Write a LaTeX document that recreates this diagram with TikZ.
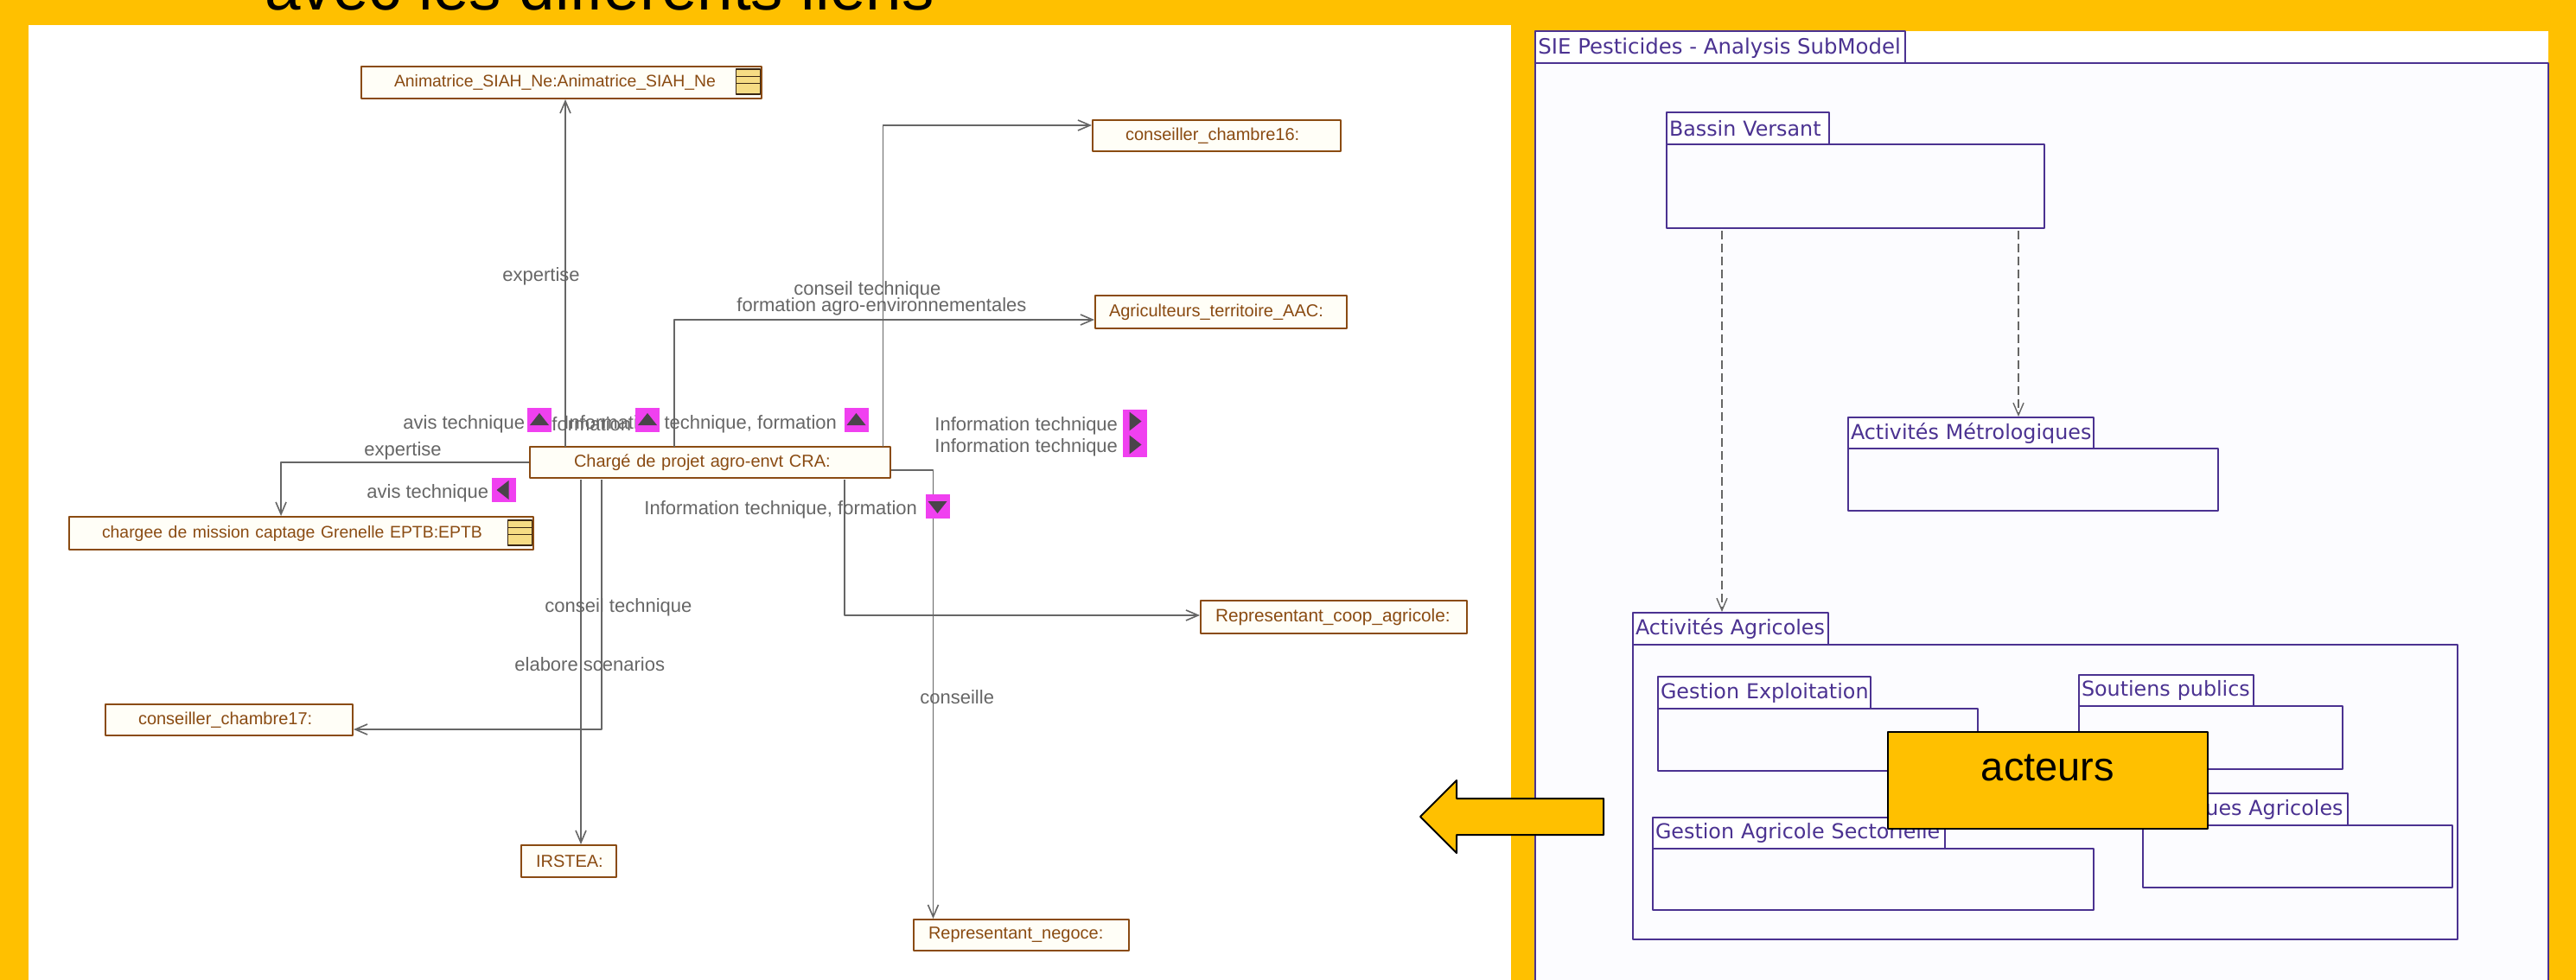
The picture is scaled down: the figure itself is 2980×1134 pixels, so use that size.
\documentclass[tikz,border=0pt]{standalone}
\usepackage{fontspec}
\setmainfont{Liberation Sans}
\newfontfamily\pkgfont{DejaVu Sans}
\usetikzlibrary{arrows.meta}
\definecolor{fond}{HTML}{FFC000}
\definecolor{panneau}{HTML}{FCFCFF}
\definecolor{brun}{HTML}{8A4B12}
\definecolor{creme}{HTML}{FFFEF7}
\definecolor{violet}{HTML}{4B3291}
\definecolor{trait}{HTML}{666666}
\definecolor{rose}{HTML}{F040F0}
\definecolor{sombre}{HTML}{4A444A}
\definecolor{dore}{HTML}{F6DC84}
\tikzset{
	actor/.style={draw=brun,fill=creme,line width=1pt,inner sep=0pt,text=brun,align=left,font=\fontsize{10}{12}\selectfont},
	pkg/.style={draw=violet,fill=panneau,line width=1pt,inner sep=0pt,text=violet,align=left,font=\pkgfont\fontsize{11.9}{14}\selectfont},
	link/.style={draw=trait,line width=.8pt},
	dep/.style={draw=trait,line width=.7pt,dash pattern=on 5pt off 2.5pt},
	lbl/.style={text=trait,inner sep=0pt,anchor=west,font=\fontsize{11}{12}\selectfont},
	markbox/.style={fill=rose,inner sep=0pt,minimum width=14pt,minimum height=14pt},
	iconbox/.style={draw=black!70!brown,fill=dore,line width=.7pt,inner sep=0pt,minimum width=14pt,minimum height=14.5pt},
	tag/.style={draw=black,fill=fond,line width=1pt}
}
\begin{document}
\begin{tikzpicture}[x=.5pt,y=-.5pt,line join=round,>={Straight Barb[length=7pt,width=6pt]}]
	\useasboundingbox (0,0) rectangle (2980,1134);
	\fill[fond] (0,0) rectangle (2980,1134);
	\node[anchor=base west,inner sep=0pt,font=\fontsize{37.3}{42}\selectfont] (titre) at (306,12) {avec les différents liens};
	% panels
	\fill[white] (33,29) rectangle (1748,1134);
	\fill[white] (1776,36) rectangle (2948,73);
	\draw[violet,line width=1pt,fill=panneau] (1776,73) rectangle (2948,1140);
	\draw[violet,line width=1pt,fill=white] (1776,36) rectangle (2204,73);
	\node[text=violet,inner sep=0pt,anchor=west,font=\pkgfont\fontsize{12.2}{14}\selectfont] (soustitre) at (1779,56) {SIE Pesticides - Analysis SubModel};
	% packages
	\foreach \nm/\xa/\ya/\xt/\yb/\xb/\yc/\txt in {
		bassin/1928/130/2116/167/2365/264/Bassin Versant,
		metro/2138/483/2422/519/2566/591/Activités Métrologiques,
		agri/1889/709/2115/746/2843/1087/Activités Agricoles,
		exploit/1918/783/2164/820/2288/892/Gestion Exploitation,
		soutien/2405/781/2607/817/2710/890/Soutiens publics,
		secteur/1912/946/2250/982/2422/1053/Gestion Agricole Sectorielle,
		pratique/2479/918/2716/955/2837/1027/Pratiques Agricoles}{
		\pgfmathsetmacro\bw{(\xb-\xa)*.5}
		\pgfmathsetmacro\bh{(\yc-\yb)*.5}
		\pgfmathsetmacro\tw{(\xt-\xa)*.5}
		\pgfmathsetmacro\th{(\yb-\ya)*.5}
		\node[pkg,text width=\tw pt,minimum height=\th pt,fill=white] (\nm tab) at ({(\xa+\xt)/2},{(\ya+\yb)/2}) {\hspace*{1.5pt}\mbox{\txt}};
		\node[pkg,minimum width=\bw pt,minimum height=\bh pt] (\nm) at ({(\xa+\xb)/2},{(\yb+\yc)/2}) {};
	}
	\coordinate (d1) at (1992,267);
	\coordinate (d2) at (2335,267);
	\draw[dep,->] (d1) -- (d1 |- agritab.north);
	\draw[dep,->] (d2) -- (d2 |- metrotab.north);
	% actors
	\foreach \nm/\xa/\ya/\xb/\yb/\xt/\txt in {
		ani/418/77/881/114/456/{\fontsize{9.7}{12}\selectfont Animatrice\_SIAH\_Ne:Animatrice\_SIAH\_Ne},
		cons16/1264/139/1551/175/1302/conseiller\_chambre16:,
		agricult/1267/342/1558/380/1283/Agriculteurs\_territoire\_AAC:,
		cpa/613/517/1030/553/664/Chargé de projet agro-envt CRA:,
		eptb/80/598/617/636/118/{\fontsize{9.7}{12}\selectfont chargee de mission captage Grenelle EPTB:EPTB},
		coop/1389/695/1697/733/1406/{\fontsize{10.4}{12}\selectfont Representant\_coop\_agricole:},
		cons17/122/815/408/851/160/conseiller\_chambre17:,
		irstea/603/978/713/1015/620/IRSTEA:,
		neg/1057/1064/1306/1100/1074/Representant\_negoce:}{
		\pgfmathsetmacro\bw{(\xb-\xa)*.5}
		\pgfmathsetmacro\bh{(\yb-\ya)*.5}
		\pgfmathsetmacro\pad{(\xt-\xa)*.5}
		\node[actor,text width=\bw pt,minimum height=\bh pt] (\nm) at ({(\xa+\xb)/2},{(\ya+\yb)/2}) {\hspace*{\pad pt}\txt};
	}
	\foreach \nm/\x/\y in {iconA/865.5/94.5,iconB/601.5/616.5} {
		\node[iconbox] (\nm) at (\x,\y) {};
		\draw[black!70!brown,line width=.6pt] ([yshift=3pt]\nm.west) -- ([yshift=3pt]\nm.east);
		\draw[black!70!brown,line width=.6pt] ([yshift=-1pt]\nm.west) -- ([yshift=-1pt]\nm.east);
	}
	% connectors
	\foreach \p/\x in {u1/654,u2/780,u3/1021.5} \coordinate (\p) at (\x,517);
	\foreach \p/\x in {v1/672,v2/696,v3/977} \coordinate (\p) at (\x,555);
	\draw[link,->] (u1) -- (u1 |- ani.south);
	\draw[link,->] (u2) |- ([yshift=-4.5pt]agricult.west);
	\draw[link,->] (u3) |- ([yshift=6pt]cons16.west);
	\draw[link,->] (cpa.west) -| ([xshift=-11.7pt]eptb.north);
	\draw[link,->] (v1) -- (v1 |- irstea.north);
	\draw[link,->] (v2) |- ([yshift=-5.5pt]cons17.east);
	\draw[link,->] (v3) |- ([yshift=1pt]coop.west);
	\draw[link,->] ([yshift=-4.5pt]cpa.east) -| ([xshift=-51pt]neg.north);
	% labels
	\foreach \nm/\x/\y/\txt in {
		expA/581/320/expertise,
		conseilA/918/336/conseil technique,
		formA/852/355/formation agro-environnementales,
		avisA/466/491/avis technique,
		formB/638/491/formation,
		infoA/652/491/{Information technique, formation},
		infoB/1081/493/Information technique,
		infoC/1081/518/Information technique,
		expB/421/522/expertise,
		avisB/424/571/avis technique,
		infoD/745/590/{Information technique, formation},
		conseilB/630/703/conseil technique,
		elabore/595/769/elabore scenarios,
		conseille/1064/807/conseille}
		\node[lbl] (\nm) at (\x,\y) {\txt};
	% markers
	\foreach \nm/\x/\y/\g in {m1/624/486/90,m2/749/486/90,m3/990.5/486/90,m4/1312.5/487.5/0,m5/1312.5/514.5/0,m6/582.5/567/180,m7/1084.5/586/-90} {
		\node[markbox] (\nm) at (\x,\y) {};
		\fill[sombre,shift={(\nm.center)},rotate=\g] (-6,-11) -- (8,0) -- (-6,11) -- cycle;
	}
	% overlay
	\draw[tag] (1855,924) -- (1685,924) -- (1685,903) -- (1643,945) -- (1685,987) -- (1685,966) -- (1855,966) -- cycle;
	\draw[tag] (2184,847) rectangle (2554,959);
	\coordinate (acteursBox) at (2369,889);
	\node[inner sep=0pt,font=\fontsize{23.5}{26}\selectfont] (acteurs) at (acteursBox) {acteurs};
\end{tikzpicture}
\end{document}
